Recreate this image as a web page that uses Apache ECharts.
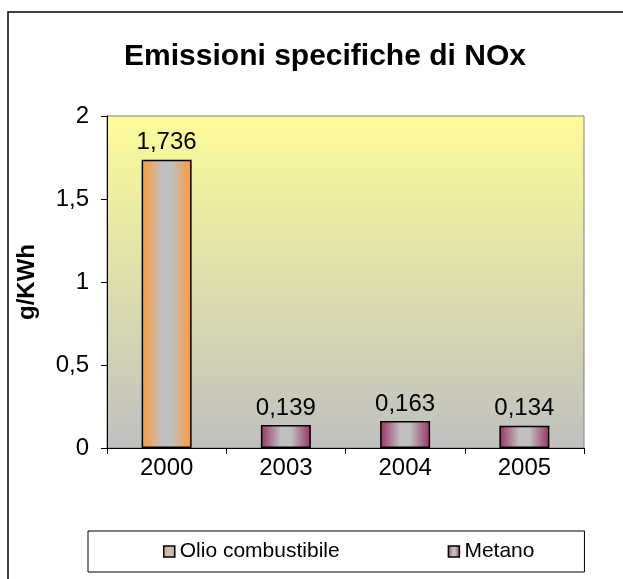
<!DOCTYPE html>
<html>
<head>
<meta charset="utf-8">
<script src="https://cdn.jsdelivr.net/npm/echarts@6/dist/echarts.min.js"></script>
<style>
  html, body { margin: 0; padding: 0; background: #fff; }
  #main { width: 623px; height: 579px; }
</style>
</head>
<body>
<div id="main"></div>
<script>
var years = ['2000', '2003', '2004', '2005'];
var olio = [1.736, '-', '-', '-'];
var metano = ['-', 0.139, 0.163, 0.134];
var yTicks = [0, 0.5, 1, 1.5, 2];

var FONT = 'Liberation Sans, Arial, sans-serif';

var fmt = function (v) {
  return String(v).replace('.', ',');
};

// bar gradient: colour at the edges, grey in the middle
var barGrad = function (c) {
  return new echarts.graphic.LinearGradient(0, 0, 1, 0, [
    { offset: 0, color: c },
    { offset: 0.4, color: '#c0c0c0' },
    { offset: 0.6, color: '#c0c0c0' },
    { offset: 1, color: c }
  ]);
};

var labelOpt = {
  show: true,
  position: 'top',
  distance: 5,
  fontFamily: FONT,
  fontSize: 24,
  color: '#000',
  formatter: function (p) { return fmt(p.value); }
};

var chart = echarts.init(document.getElementById('main'));
chart.setOption({
  backgroundColor: '#fff',
  animation: false,
  graphic: [{
    type: 'rect',
    shape: { x: 8, y: 12, width: 700, height: 700 },
    style: { fill: 'none', stroke: '#000', lineWidth: 1.5 },
    silent: true
  }],
  title: {
    text: 'Emissioni specifiche di NOx',
    left: 320,
    top: 37,
    textAlign: 'center',
    textStyle: {
      fontFamily: FONT,
      fontWeight: 'bold',
      fontSize: 30,
      color: '#000'
    }
  },
  grid: {
    left: 107,
    right: 39,
    top: 116,
    bottom: 131,
    show: true,
    borderColor: '#808080',
    borderWidth: 1,
    backgroundColor: new echarts.graphic.LinearGradient(0, 0, 0, 1, [
      { offset: 0, color: '#fdfc9a' },
      { offset: 1, color: '#c0c0c0' }
    ])
  },
  legend: {
    left: 88,
    top: 531,
    padding: [10, 50, 10, 75],
    itemGap: 108,
    itemWidth: 11,
    itemHeight: 11,
    borderColor: '#000',
    borderWidth: 1,
    icon: 'rect',
    textStyle: {
      fontFamily: FONT,
      fontSize: 21,
      color: '#000'
    },
    itemStyle: { borderColor: '#000', borderWidth: 1.5 },
    data: ['Olio combustibile', 'Metano']
  },
  xAxis: {
    type: 'category',
    data: years,
    axisLine: { lineStyle: { color: '#000', width: 1 } },
    axisTick: { show: true, length: 6, lineStyle: { color: '#000' } },
    axisLabel: {
      fontFamily: FONT,
      fontSize: 24,
      color: '#000',
      margin: 8
    }
  },
  yAxis: {
    type: 'value',
    min: 0,
    max: 2,
    interval: 0.5,
    name: 'g/KWh',
    nameLocation: 'middle',
    nameGap: 68,
    nameTextStyle: {
      fontFamily: FONT,
      fontWeight: 'bold',
      fontSize: 24,
      color: '#000'
    },
    axisLine: { show: true, lineStyle: { color: '#000', width: 1 } },
    axisTick: { show: true, length: 6, lineStyle: { color: '#000' } },
    splitLine: { show: false },
    axisLabel: {
      fontFamily: FONT,
      fontSize: 24,
      color: '#000',
      margin: 18,
      formatter: function (v) {
        return yTicks.indexOf(v) >= 0 ? fmt(v) : '';
      }
    }
  },
  series: [
    {
      name: 'Olio combustibile',
      type: 'bar',
      stack: 'all',
      barWidth: 50,
      data: olio,
      itemStyle: { color: barGrad('#ff9933'), borderColor: '#000', borderWidth: 1.5 },
      label: labelOpt
    },
    {
      name: 'Metano',
      type: 'bar',
      stack: 'all',
      barWidth: 50,
      data: metano,
      itemStyle: { color: barGrad('#993366'), borderColor: '#000', borderWidth: 1.5 },
      label: labelOpt
    }
  ]
});
</script>
</body>
</html>
